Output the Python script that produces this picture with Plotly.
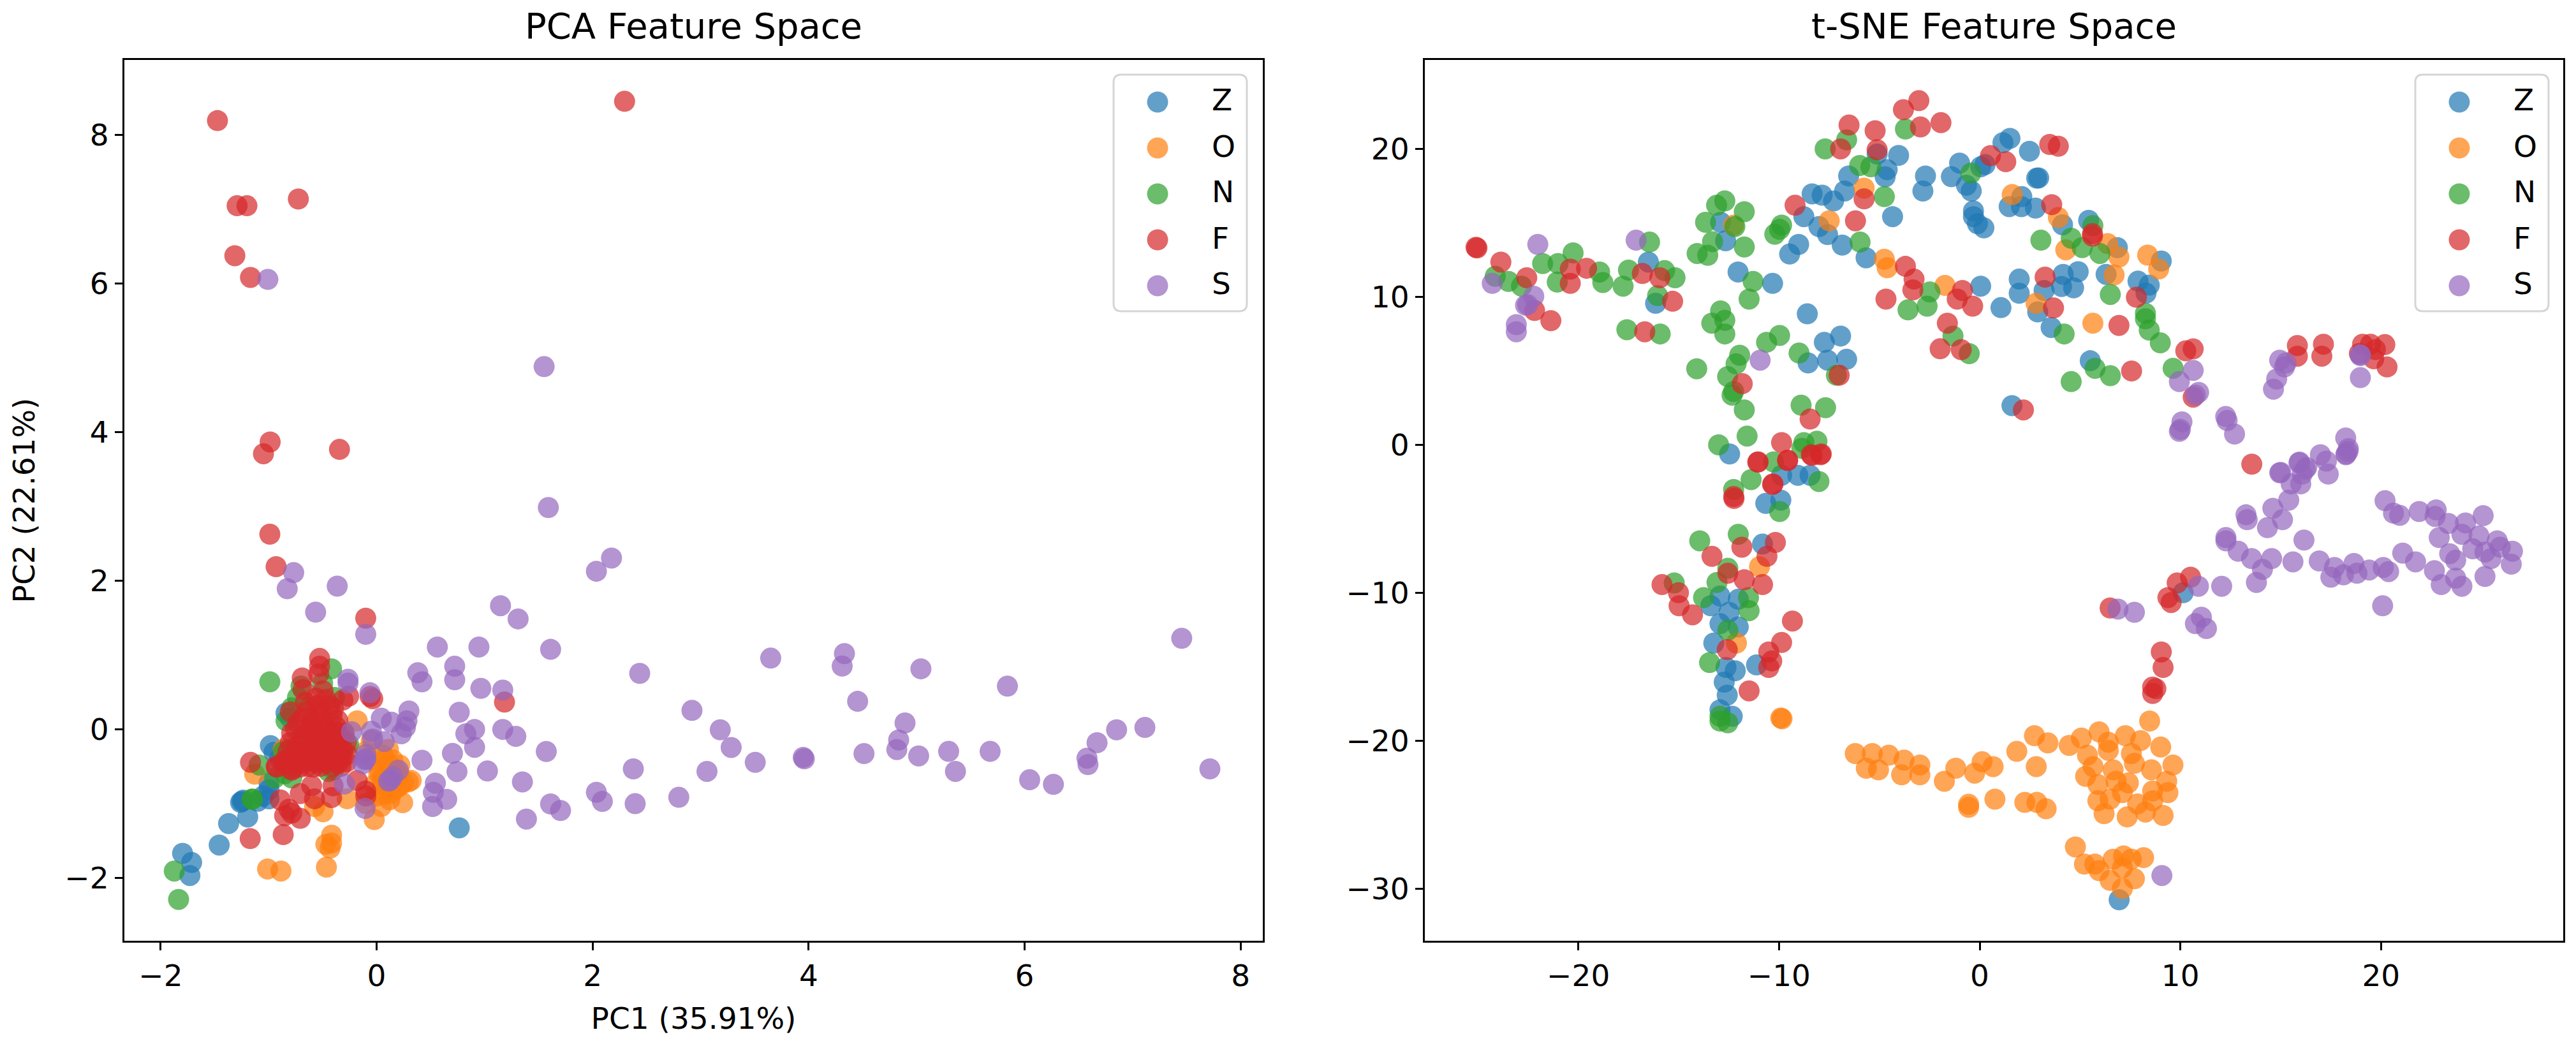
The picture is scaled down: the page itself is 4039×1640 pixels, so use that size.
import plotly.graph_objects as go

CLASSES = ["Z", "O", "N", "F", "S"]
COLORS = ["#1f77b4", "#ff7f0e", "#2ca02c", "#d62728", "#9467bd"]

PCA_Z = [(-1.458,-1.56),(-1.371,-1.27),(-1.194,-1.182),(-1.247,-0.972),(-1.26,-0.985),(-1.235,-0.955),(-0.997,-0.727),(-0.997,-0.815),(-0.997,-0.938),
 (-0.984,-0.22),(-0.95,-0.31),(-0.839,0.218),(-1.797,-1.672),(-1.713,-1.795),(-1.729,-1.97),(0.765,-1.329),(-1.10,-0.97),(-1.05,-0.90),(-0.80,0.15),(-0.90,-0.40),(-0.70,-0.10),(-0.60,0.10)]
PCA_O = [(-0.18,0.113),(0.109,-0.272),(0.149,-0.412),(0.215,-0.482),(0.294,-0.71),(0.215,-0.762),(0.109,-0.552),(0.057,-0.727),(0.136,-0.867),(0.043,-1.042),
 (0.241,-0.99),(-0.273,-0.937),(-0.496,-1.112),(-0.575,-1.042),(-0.022,-1.217),(-0.417,-1.427),(-0.417,-1.532),(-0.47,-1.55),(-0.431,-1.602),(-0.465,-1.858),
 (-1.01,-1.882),(-0.886,-1.91),(-1.129,-0.605),(-0.865,-0.272),(-0.036,-0.412),(0.03,-0.552),(0.215,-0.622),(0.08,-0.41),(0.175,-0.622),(0.136,-0.762),(0.0,-0.9),(0.32,-0.69),(-0.10,-0.30),(-0.05,-0.15),(0.02,-0.60),(0.10,-0.82),
 (0.06,-0.35),(0.12,-0.48),(0.18,-0.55),(0.05,-0.65),(0.10,-0.68),(0.25,-0.72),(0.18,-0.80),(0.07,-0.88),(-0.02,-0.75),(0.12,-0.95),(-0.10,-1.0)]
PCA_N = [(-0.989,0.638),(-0.417,0.813),(-0.733,0.428),(-0.391,0.428),(-0.786,0.288),(-0.839,0.113),(-0.865,-0.307),(-0.81,-0.272),(-1.089,-0.482),(-0.944,-0.657),
 (-0.786,-0.657),(-0.444,-0.57),(-0.26,-0.202),(-1.155,-0.944),(-1.15,-0.94),(-1.874,-1.91),(-1.834,-2.292),(-0.70,0.58),(-0.85,-0.60),(-0.62,0.30),(-0.50,0.62),(-0.30,-0.10),(-0.40,-0.55)]
PCA_F = [(-1.474,8.195),(2.296,8.455),(-0.725,7.14),(-1.292,7.049),(-1.201,7.049),(-1.313,6.376),(-1.168,6.084),(-0.986,3.867),(-1.048,3.709),(-0.344,3.768),
 (-0.989,2.626),(-0.931,2.188),(-0.101,1.495),(1.184,0.365),(-0.036,0.41),(-0.06,0.44),(-0.259,0.445),(-0.312,0.393),(-0.528,0.953),(-0.528,0.848),(-0.536,0.743),
 (-0.689,0.69),(-0.681,0.533),(-0.496,0.515),(-0.799,0.235),
 (-0.551,0.318),(-0.433,0.318),(-0.649,0.232),(-0.531,0.175),(-0.413,0.175),(-0.728,0.09),(-0.61,0.032),(-0.472,0.032),(-0.374,0.032),(-0.787,-0.053),(-0.669,-0.111),
 (-0.551,-0.111),(-0.433,-0.111),(-0.334,-0.111),(-0.747,-0.254),(-0.629,-0.254),(-0.511,-0.254),(-0.393,-0.254),(-0.315,-0.282),(-0.787,-0.397),(-0.669,-0.397),
 (-0.551,-0.368),(-0.433,-0.397),(-0.325,-0.397),(-0.924,-0.511),(-0.787,-0.539),(-0.865,-0.454),(-0.708,-0.511),(-0.59,-0.511),(-0.472,-0.454),(-0.354,-0.454),
 (-0.60,0.10),(-0.50,0.10),(-0.45,-0.05),(-0.60,-0.05),(-0.55,-0.20),(-0.45,-0.20),(-0.65,-0.32),(-0.50,-0.32),(-0.40,-0.32),(-0.70,-0.45),(-0.55,-0.45),
 (-0.66,0.36),(-0.56,0.42),(-0.47,0.40),(-0.40,0.28),(-0.68,0.15),(-0.52,0.24),(-0.36,0.12),(-0.75,0.0),(-0.62,-0.02),(-0.52,0.0),(-0.38,-0.04),(-0.30,-0.05),
 (-0.80,-0.18),(-0.70,-0.20),(-0.58,-0.16),(-0.47,-0.14),(-0.36,-0.18),(-0.28,-0.18),(-0.82,-0.30),(-0.72,-0.32),(-0.58,-0.28),(-0.45,-0.30),(-0.35,-0.33),(-0.27,-0.34),
 (-0.85,-0.42),(-0.74,-0.42),(-0.62,-0.42),(-0.50,-0.42),(-0.38,-0.42),(-0.28,-0.44),(-0.80,-0.48),(-0.64,-0.50),(-0.52,-0.50),(-0.41,-0.50),(-0.33,-0.50),
 (-1.168,-0.447),(-0.931,-0.5),(-0.786,-0.552),(-0.602,-0.762),(-0.707,-0.867),(-0.575,-0.937),(-0.404,-0.762),(-0.417,-0.92),(-0.101,-0.832),(-0.18,-0.692),
 (-0.891,-0.954),(-0.812,-1.077),(-0.852,-1.165),(-0.707,-1.2),(-0.786,-1.13),(-0.865,-1.42),(-1.171,-1.473),(-0.10,-0.90)]
PCA_S = [(1.59,2.985),(-0.768,2.108),(-0.828,1.891),(-0.365,1.926),(-0.565,1.576),(-0.101,1.278),(1.147,1.663),(1.31,1.485),(0.562,1.107),(0.947,1.107),(1.611,1.075),
 (0.381,0.76),(0.42,0.638),(0.723,0.848),(0.723,0.666),(0.965,0.55),(1.168,0.526),(-0.265,0.673),(-0.265,0.62),(-0.062,0.491),(0.299,0.246),(0.281,0.113),(0.267,0.025),
 (0.228,-0.062),(0.043,0.148),(0.136,0.095),(-0.233,-0.034),(-0.049,-0.027),(-0.036,-0.132),(0.07,-0.167),(0.765,0.228),(0.907,-0.003),(0.826,-0.062),(0.907,-0.244),
 (1.168,-0.003),(1.289,-0.097),(0.702,-0.325),(0.744,-0.57),(0.42,-0.419),(1.026,-0.563),(1.571,-0.3),(1.35,-0.71),(0.544,-0.727),(0.525,-0.85),(0.649,-0.944),
 (0.518,-1.042),(1.387,-1.21),(1.611,-1.007),(1.703,-1.095),(-0.107,-0.412),(-0.101,-0.342),(-0.128,-0.465),(-0.1,-0.4),(0.201,-0.552),(0.122,-0.692),(0.149,-0.64),(0.11,-0.70),
 (-0.299,-0.738),(-0.107,-1.067),
 (2.175,2.305),(2.035,2.127),(2.436,0.752),(3.649,0.957),(4.332,1.018),(4.311,0.85),(5.04,0.813),(5.841,0.58),(7.455,1.224),(4.454,0.375),(2.92,0.253),(3.182,-0.008),
 (3.283,-0.246),(3.506,-0.446),(3.95,-0.38),(3.96,-0.40),(4.513,-0.329),(4.893,0.084),(4.834,-0.145),(4.817,-0.274),(5.019,-0.36),(5.297,-0.299),(5.36,-0.568),(5.681,-0.299),
 (6.047,-0.681),(6.267,-0.743),(6.578,-0.39),(6.587,-0.476),(6.671,-0.182),(6.852,-0.008),(7.114,0.023),(7.716,-0.534),(2.377,-0.534),(3.059,-0.568),(2.798,-0.917),
 (2.394,-1.003),(2.035,-0.85),(2.09,-0.972),(-1.007,6.057),(1.551,4.883)]

TSNE_Z = [(-16.51,12.35),(-16.15,9.56),(-12.91,15.04),(-12.66,13.79),(-12.04,11.68),(-10.32,10.91),(-8.59,8.85),(-7.74,6.93),(-6.93,7.35),(-7.58,5.72),(-6.63,5.78),(-8.55,5.53),
 (-12.46,-0.62),(-9.87,-2.06),(-9.06,-2.06),(-8.45,-2.06),(-8.76,15.42),(-8.35,16.96),(-7.85,16.87),(-7.28,16.48),(-6.73,17.15),(-6.53,18.17),(-4.61,18.6),(-4.71,18.11),
 (-4.04,19.56),(-5.11,19.65),(-4.34,15.42),(-8.01,14.75),(-7.58,14.21),(-6.85,13.5),(-5.66,12.64),(-9.02,13.54),(-9.47,12.89),(-2.7,18.17),(-2.83,17.15),(-1.41,18.12),(-1.0,19.04),
 (-0.66,17.54),(-0.42,17.15),(0.05,18.79),(0.27,18.94),(-0.31,15.81),(-0.31,15.42),(-0.11,14.94),(0.21,14.66),(1.16,20.42),(1.51,20.71),(2.48,19.84),(2.84,18.02),(2.94,18.04),
 (1.47,16.1),(2.08,16.1),(2.78,16.0),(2.1,16.77),(0.05,10.72),(1.06,9.27),(1.97,11.2),(1.97,10.24),(1.61,2.65),
 (5.43,15.17),(4.13,14.87),(6.86,13.33),(9.05,12.42),(6.3,11.52),(7.89,11.06),(8.45,10.79),(8.29,10.25),(4.16,11.52),(4.91,11.7),(4.08,10.7),(4.68,10.61),(3.21,10.43),(2.89,8.98),(3.56,7.93),(5.51,5.68),
 (-10.66,-3.96),(-9.91,-3.74),(-10.82,-6.71),(-12.94,-10.22),(-12.03,-10.44),(-13.4,-10.88),(-12.49,-11.32),(-12.94,-12.09),(-12.03,-12.31),(-13.25,-13.4),(-12.64,-15.05),(-12.18,-15.27),
 (-11.12,-14.88),(-12.73,-16.04),(-12.58,-16.92),(-12.94,-17.91),(-12.33,-18.35),(6.95,-30.75),(10.14,-10.0)]
TSNE_O = [(-12.26,14.85),(-7.5,15.14),(-5.76,17.35),(-4.75,12.54),(-4.61,11.97),(-1.73,10.77),(1.62,16.91),(2.81,9.56),(3.92,15.36),(6.38,13.6),(4.29,13.18),(6.94,12.69),(8.37,12.82),(8.92,11.88),(6.7,11.48),(5.64,8.22),
 (-10.97,-8.24),(-12.12,-13.4),(-9.91,-18.46),(-9.85,-18.52),(-6.2,-20.87),(-5.35,-20.87),(-4.53,-20.98),(-3.77,-21.31),(-2.98,-21.64),(-5.65,-21.86),(-5.04,-21.97),(-3.89,-22.3),(-2.98,-22.3),
 (-1.76,-22.74),(-1.19,-21.86),(-0.25,-22.19),(0.12,-21.42),(0.67,-21.75),(1.85,-20.72),(2.73,-19.66),(3.4,-20.15),(2.82,-21.75),(4.46,-20.32),(5.07,-19.82),(5.95,-19.4),(6.41,-20.1),(7.26,-19.66),
 (8.02,-19.99),(8.47,-18.67),(9.02,-20.43),(5.37,-20.98),(6.41,-20.65),(7.56,-20.87),(9.63,-21.64),(5.65,-21.75),(7.71,-21.53),(8.56,-21.97),(6.65,-21.97),(5.28,-22.41),(5.89,-22.96),(6.8,-22.74),
 (7.41,-22.85),(9.32,-22.74),(8.62,-23.4),(9.38,-23.51),(7.11,-23.51),(5.89,-24.06),(6.5,-23.95),(7.87,-24.27),(8.62,-24.06),(6.2,-24.93),(7.35,-25.15),(8.26,-24.82),(9.14,-25.05),(0.76,-23.95),
 (-0.55,-24.5),(-0.55,-24.3),(2.25,-24.17),(2.85,-24.17),(3.31,-24.6),(4.77,-27.18),(5.22,-28.34),(5.74,-28.34),(6.65,-28.01),(7.17,-27.79),(8.17,-27.9),(7.56,-28.0),(6.5,-29.44),(7.71,-29.33),(7.11,-29.99),(5.95,-28.78),(7.11,-28.6)]
TSNE_N = [(-24.14,11.39),(-23.48,11.04),(-22.83,10.72),(-21.78,12.25),(-21.01,12.25),(-20.26,12.97),(-21.05,11.0),(-18.94,11.68),(-18.78,10.97),(-17.77,10.72),(-17.5,11.81),(-16.45,13.7),(-15.7,11.77),(-15.18,11.29),
 (-16.05,10.08),(-17.58,7.78),(-15.92,7.49),(-13.11,16.19),(-12.7,16.48),(-11.73,15.75),(-13.66,15.04),(-12.2,14.75),(-9.87,14.85),(-9.97,14.56),(-10.21,14.23),(-13.31,13.73),(-11.73,13.37),(-14.08,12.93),(-13.55,12.81),
 (-11.29,11.04),(-11.49,9.85),(-12.91,9.05),(-12.7,8.41),(-13.35,8.22),(-12.7,7.49),(-9.97,7.39),(-10.62,6.93),(-9.0,6.2),(-11.96,6.05),(-12.14,5.47),(-14.1,5.14),(-12.56,4.61),(-12.26,3.61),(-12.34,3.36),(-11.73,2.36),
 (-7.14,4.7),(-8.9,2.68),(-7.68,2.51),(-11.59,0.59),(-13.01,0.0),(-8.11,0.24),(-8.76,0.15),(-8.86,-0.24),(-10.27,-1.16),(-11.39,-2.35),(-8.01,-2.48),(-12.26,-3.02),(-5.98,18.88),(-5.42,18.79),(-7.7,20.0),(-6.63,20.61),
 (-3.7,21.34),(-4.75,16.77),(-5.96,13.7),(-0.44,18.36),(3.05,13.83),(-2.48,10.33),(-3.57,9.12),(-2.62,9.37),(-1.33,7.35),(-0.52,6.16),(5.64,14.81),(4.56,13.96),(5.11,13.33),(5.99,12.93),(6.51,10.16),(8.26,8.89),(8.26,8.52),
 (8.45,7.75),(9.0,6.89),(9.64,5.17),(4.21,7.49),(5.75,5.17),(6.51,4.67),(4.56,4.27),
 (-9.97,-4.51),(-13.95,-6.49),(-12.03,-6.05),(-12.55,-8.35),(-13.09,-9.3),(-15.22,-9.34),(-13.76,-10.33),(-11.52,-10.33),(-11.49,-11.21),(-12.55,-12.53),(-13.46,-14.72),(-12.94,-18.67),(-12.55,-18.79),(-12.94,-18.35)]
TSNE_F = [(-25.1,13.35),(-25.05,13.3),(-23.86,12.35),(-22.57,11.29),(-20.4,11.87),(-20.4,10.91),(-19.59,11.93),(-22.18,9.08),(-21.37,8.39),(-16.81,11.58),(-15.94,11.29),(-15.3,9.7),(-16.69,7.64),(-9.2,16.19),(-6.51,21.61),
 (-5.21,21.23),(-5.11,19.94),(-6.93,20.0),(-3.8,22.65),(-3.03,23.26),(-2.95,21.48),(-1.93,21.77),(-5.76,16.62),(-6.19,15.14),(-3.7,12.06),(-3.27,11.2),(-3.33,10.47),(-4.67,9.85),(-0.86,10.43),(-1.12,9.85),(-0.35,9.37),
 (-1.61,8.22),(-1.97,6.49),(-0.92,6.43),(-7.0,4.7),(-11.83,4.13),(-8.45,1.74),(-9.87,0.15),(-8.35,-0.72),(-7.89,-0.62),(-9.57,-1.06),(-11.04,-1.16),(-10.32,-2.68),(-12.26,-3.5),(2.18,2.36),(0.54,19.54),(1.3,19.13),
 (3.49,20.3),(3.92,20.18),(3.59,16.23),(5.62,14.27),(5.62,14.1),(7.81,9.97),(3.26,11.33),(3.68,9.25),(6.94,8.07),(10.27,6.35),(10.64,6.48),(10.64,3.22),(7.57,4.99),(15.83,6.71),(15.83,5.99),(17.13,6.8),(17.05,5.99),
 (19.08,6.8),(19.48,6.8),(20.19,6.77),(18.92,6.17),(19.72,6.44),(19.64,5.81),(20.3,5.26),(13.56,-1.31),
 (-11.06,-1.17),(-9.57,-1.04),(-8.39,-0.67),(-7.93,-0.67),(-10.3,-2.64),(-12.24,-3.63),(-10.18,-6.6),(-11.85,-6.92),(-13.34,-7.54),(-10.6,-7.54),(-12.55,-8.68),(-11.73,-9.12),(-10.82,-9.45),(-15.83,-9.45),(-15.01,-10.0),
 (-14.98,-10.88),(-14.31,-11.49),(-9.33,-11.91),(-9.87,-13.36),(-12.58,-13.84),(-10.51,-14.0),(-10.36,-14.61),(-10.51,-15.05),(-11.49,-16.63),(10.51,-8.95),(9.84,-9.34),(9.38,-10.33),(9.54,-10.66),(6.5,-11.03),
 (9.05,-14.0),(9.14,-15.05),(8.62,-16.37),(8.78,-16.48),(8.62,-16.81)]
TSNE_S = [(9.08,-29.11),(20.08,-10.88),(6.89,-11.1),(7.71,-11.32),(10.9,-9.56),(12.06,-9.56),(11.05,-11.65),(10.75,-12.09),(11.3,-12.42),(12.27,-6.27),(12.27,-6.49),(12.88,-7.19),(13.55,-7.69),(14.55,-7.69),(14.09,-8.42),
 (13.79,-9.3),(15.61,-7.91),(16.16,-6.44),(16.92,-7.85),(17.68,-8.29),(17.5,-8.95),(18.13,-8.79),(18.65,-8.02),(18.8,-8.68),(19.41,-8.46),(20.11,-8.29),(20.38,-8.57),(21.08,-7.32),(21.72,-7.91),(22.66,-8.51),(23.0,-9.45),
 (23.72,-9.01),(24.03,-9.56),(25.18,-8.9),(26.49,-8.07),(26.55,-7.19),(25.79,-6.49),(25.48,-7.69),(25.94,-6.92),(25.18,-7.25),(24.57,-7.03),(23.72,-7.8),(23.42,-7.36),(22.9,-6.27),(24.03,-6.05),(24.88,-6.16),(25.09,-4.79),
 (24.21,-5.28),(23.36,-5.32),(22.75,-4.4),(22.69,-4.84),(21.9,-4.51),(20.93,-4.77),(20.62,-4.62),(20.2,-3.78),(13.27,-4.73),(13.33,-5.06),(14.34,-5.6),(15.09,-5.06),(14.61,-4.29),(15.4,-3.74),(15.0,-1.87),(15.52,-2.64),
 (16.0,-2.64),(15.91,-1.21),(16.22,-1.65),(16.98,-0.67),(17.28,-1.1),(17.37,-1.98),(18.35,-0.45),(18.25,-0.67),
 (10.64,5.03),(9.95,4.27),(10.75,3.36),(10.91,3.54),(10.08,1.55),(10.0,1.04),(9.95,0.91),(12.26,1.91),(12.33,1.64),(12.7,0.73),(14.95,5.72),(15.19,5.26),(15.27,5.53),(14.8,4.45),(14.64,3.76),(18.97,6.08),(18.97,6.03),(18.97,4.54),
 (18.24,0.46),(18.37,-0.26),(18.26,-0.62),(14.95,-1.89),(15.94,-1.17),(16.3,-1.53),(16.07,-1.98),
 (-22.02,13.54),(-17.12,13.83),(-24.29,10.91),(-22.22,10.04),(-22.52,9.47),(-22.63,9.43),(-23.09,8.12),(-23.09,7.64),(-10.94,5.72)]

PCA = [PCA_Z, PCA_O, PCA_N, PCA_F, PCA_S]
TSNE = [TSNE_Z, TSNE_O, TSNE_N, TSNE_F, TSNE_S]
PCA_XTICKS = [-2, 0, 2, 4, 6, 8]
PCA_YTICKS = [-2, 0, 2, 4, 6, 8]
TSNE_XTICKS = [-20, -10, 0, 10, 20]
TSNE_YTICKS = [-30, -20, -10, 0, 10, 20]

# page body has an 8px margin, so the plot is 16px smaller than the window
W, H = 4023, 1624
xp = lambda px: (px - 8) / W
yp = lambda py: 1 - (py - 8) / H

FONT = "DejaVu Sans"
MS = 33
TICK = 47
TITLE = 56
fig = go.Figure()
for i, name in enumerate(CLASSES):
    fig.add_trace(go.Scatter(x=[p[0] for p in PCA[i]], y=[p[1] for p in PCA[i]], mode="markers", name=name,
                             marker=dict(size=MS, color=COLORS[i], opacity=0.7, line=dict(width=0)),
                             xaxis="x", yaxis="y", showlegend=False))
for i, name in enumerate(CLASSES):
    fig.add_trace(go.Scatter(x=[p[0] for p in TSNE[i]], y=[p[1] for p in TSNE[i]], mode="markers", name=name,
                             marker=dict(size=MS, color=COLORS[i], opacity=0.7, line=dict(width=0)),
                             xaxis="x2", yaxis="y2", showlegend=False))

axis = dict(showline=True, mirror=True, linecolor="black", linewidth=3, ticks="outside", ticklen=12, tickwidth=3,
            tickcolor="black", showgrid=False, zeroline=False, tickfont=dict(family=FONT, size=TICK, color="black"))

fig.update_layout(
    width=W, height=H, margin=dict(l=0, r=0, t=0, b=0), paper_bgcolor="white", plot_bgcolor="white", showlegend=False,
    font=dict(family=FONT, color="black"),
    xaxis=dict(axis, domain=[xp(195), xp(1980)], range=[-2.336, 8.206], tickvals=PCA_XTICKS,
               title=dict(text="PC1 (35.91%)", font=dict(family=FONT, size=TICK), standoff=24)),
    yaxis=dict(axis, domain=[yp(1475), yp(94)], range=[-2.849, 9.012], tickvals=PCA_YTICKS,
               title=dict(text="PC2 (22.61%)", font=dict(family=FONT, size=TICK), standoff=32)),
    xaxis2=dict(axis, domain=[xp(2234), xp(4019)], range=[-27.65, 29.08], tickvals=TSNE_XTICKS, anchor="y2"),
    yaxis2=dict(axis, domain=[yp(1475), yp(94)], range=[-33.52, 26.01], tickvals=TSNE_YTICKS, anchor="x2"),
)

anns, shapes = [], []
for cx, text in [(1087, "PCA Feature Space"), (3126, "t-SNE Feature Space")]:
    anns.append(dict(text=text, x=xp(cx), y=yp(41), xref="paper", yref="paper", xanchor="center", yanchor="middle",
                     showarrow=False, font=dict(family=FONT, size=TITLE, color="black")))

# legends, same geometry as the reference (native symbols cap at 16px)
for left, right in [(1746, 1955), (3787, 3996)]:
    top, bot, r = 117, 488, 12
    x0, x1, y0, y1 = xp(left), xp(right), yp(top), yp(bot)
    rx, ry = r / W, r / H
    path = (f"M {x0+rx},{y0} L {x1-rx},{y0} Q {x1},{y0} {x1},{y0-ry} L {x1},{y1+ry} Q {x1},{y1} {x1-rx},{y1} "
            f"L {x0+rx},{y1} Q {x0},{y1} {x0},{y1+ry} L {x0},{y0-ry} Q {x0},{y0} {x0+rx},{y0} Z")
    shapes.append(dict(type="path", path=path, xref="paper", yref="paper", fillcolor="rgba(255,255,255,0.8)",
                       line=dict(color="#d5d5d5", width=3), layer="above"))
    for i, name in enumerate(CLASSES):
        cy = 160 + 72 * i
        mx = left + 69
        shapes.append(dict(type="circle", xref="paper", yref="paper", x0=xp(mx - MS / 2), x1=xp(mx + MS / 2),
                           y0=yp(cy + MS / 2), y1=yp(cy - MS / 2), fillcolor=COLORS[i], opacity=0.7,
                           line=dict(width=0), layer="above"))
        anns.append(dict(text=name, x=xp(left + 152), y=yp(cy - 3), xref="paper", yref="paper", xanchor="left", yanchor="middle",
                         showarrow=False, font=dict(family=FONT, size=TICK, color="black")))
fig.update_layout(annotations=anns, shapes=shapes)

fig.write_html("out.html")
